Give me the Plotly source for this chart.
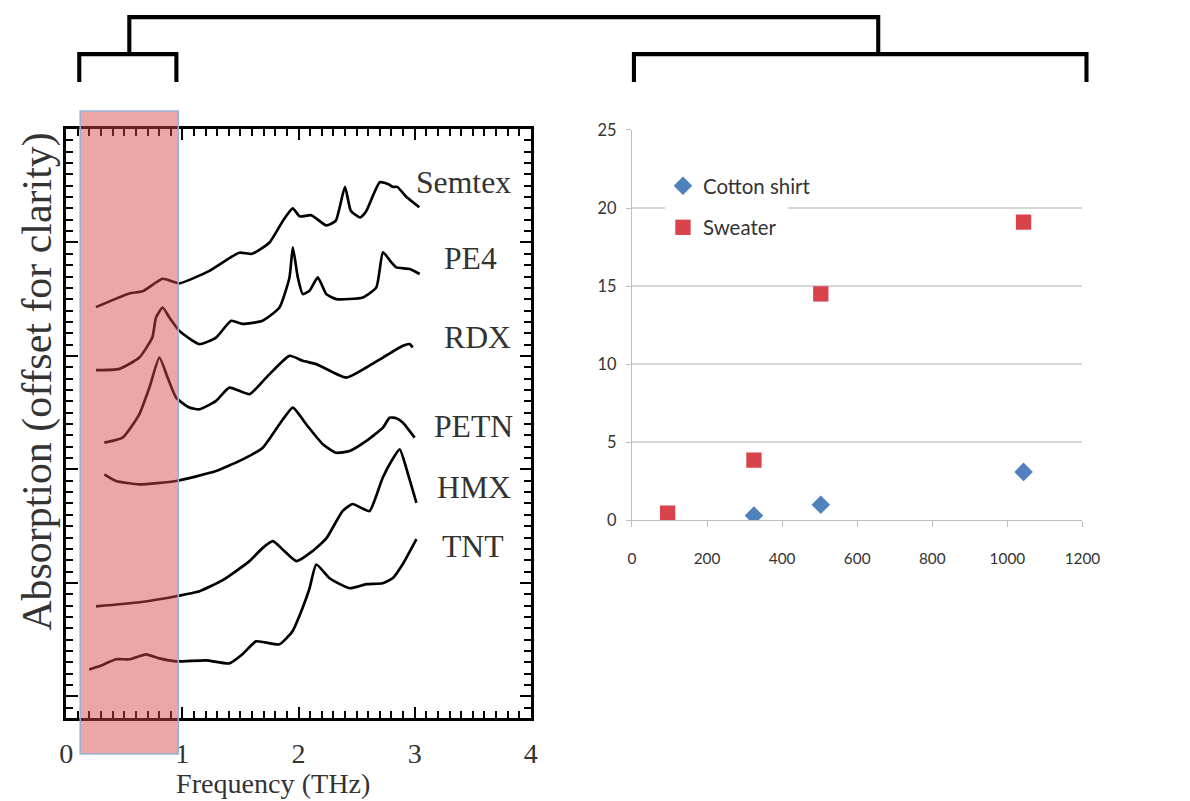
import plotly.graph_objects as go

# Layout positions are written on a 1190x801 design grid; the figure itself is
# slightly larger and sits inside the page body's 8px margin.
GRID_SCALE = 0.978
M = 8
W, H = 1201, 803

# ---- THz absorption spectra (vertically offset) ----
semtex_f = [0.256, 0.543, 0.658, 0.83, 0.974, 1.233, 1.49, 1.6, 1.75, 1.865, 1.95, 2.01, 2.11,
            2.24, 2.32, 2.40, 2.45, 2.53, 2.58, 2.70, 2.78, 2.81, 2.85, 2.93, 3.04]
semtex_a = [3.43, 3.55, 3.57, 3.68, 3.64, 3.75, 3.91, 3.90, 4.0, 4.19, 4.30, 4.23, 4.24,
            4.15, 4.19, 4.49, 4.28, 4.22, 4.27, 4.53, 4.51, 4.49, 4.49, 4.40, 4.31]

pe4_f = [0.256, 0.457, 0.629, 0.741, 0.773, 0.830, 0.888, 0.974, 1.147, 1.29, 1.42, 1.517, 1.69,
         1.836, 1.922, 1.951, 1.994, 2.037, 2.095, 2.166, 2.239, 2.325, 2.554, 2.67, 2.727, 2.80,
         2.842, 2.957, 3.043]
pe4_a = [2.875, 2.886, 2.986, 3.162, 3.339, 3.427, 3.339, 3.221, 3.104, 3.162, 3.31, 3.283, 3.31,
         3.427, 3.692, 3.957, 3.692, 3.545, 3.575, 3.692, 3.545, 3.501, 3.515, 3.604, 3.913, 3.824,
         3.78, 3.766, 3.722]

rdx_f = [0.328, 0.485, 0.629, 0.716, 0.802, 0.873, 0.946, 1.06, 1.147, 1.29, 1.405, 1.578, 1.722,
         1.922, 2.037, 2.153, 2.411, 2.584, 2.727, 2.899, 2.957, 2.983]
rdx_a = [2.236, 2.280, 2.486, 2.721, 2.986, 2.809, 2.633, 2.545, 2.530, 2.604, 2.721, 2.663, 2.809,
         3.001, 2.957, 2.928, 2.809, 2.898, 2.986, 3.089, 3.104, 3.074]

petn_f = [0.328, 0.428, 0.629, 0.946, 1.29, 1.52, 1.692, 1.836, 1.951, 2.066, 2.209, 2.325, 2.44,
          2.584, 2.727, 2.784, 2.842, 2.899, 3.0]
petn_a = [1.957, 1.898, 1.869, 1.898, 1.986, 2.089, 2.192, 2.398, 2.545, 2.398, 2.222, 2.147, 2.162,
          2.251, 2.368, 2.456, 2.451, 2.412, 2.280]

hmx_f = [0.256, 0.629, 0.946, 1.147, 1.347, 1.578, 1.692, 1.779, 1.879, 1.983, 2.12, 2.241, 2.379,
         2.466, 2.543, 2.612, 2.724, 2.80, 2.871, 2.94, 3.015]
hmx_a = [0.794, 0.830, 0.883, 0.927, 1.024, 1.192, 1.309, 1.368, 1.280, 1.192, 1.280, 1.395, 1.633,
         1.695, 1.659, 1.633, 1.924, 2.074, 2.177, 1.968, 1.706]

tnt_f = [0.198, 0.284, 0.428, 0.543, 0.687, 0.802, 0.946, 1.204, 1.405, 1.517, 1.635, 1.836, 1.948,
         2.034, 2.095, 2.153, 2.267, 2.44, 2.584, 2.724, 2.81, 2.897, 3.015]
tnt_a = [0.238, 0.265, 0.327, 0.327, 0.371, 0.335, 0.309, 0.318, 0.291, 0.371, 0.485, 0.459, 0.574,
         0.777, 0.953, 1.162, 1.041, 0.953, 0.989, 0.997, 1.041, 1.165, 1.386]

spectra = [
    ("Semtex", semtex_f, semtex_a),
    ("PE4", pe4_f, pe4_a),
    ("RDX", rdx_f, rdx_a),
    ("PETN", petn_f, petn_a),
    ("HMX", hmx_f, hmx_a),
    ("TNT", tnt_f, tnt_a),
]

# label anchor (frequency, absorption) for each spectrum name
label_f = [3.42, 3.48, 3.54, 3.51, 3.51, 3.50]
label_a = [4.53, 3.86, 3.16, 2.38, 1.84, 1.32]

# highlighted low-frequency band (THz)
band = [0.12, 0.965]

# ---- attenuation vs. distance ----
cotton_x = [325, 503, 1043]
cotton_y = [0.3, 1.0, 3.1]
sweater_x = [95, 325, 503, 1043]
sweater_y = [0.45, 3.85, 14.5, 19.1]

SERIF = "Liberation Serif, Times New Roman, serif"
SANS = "Lato, Open Sans, sans-serif"
TXT = "#333333"


def px(x):
    """design-grid column -> paper fraction"""
    return (x / GRID_SCALE - M) / W


def py(y):
    """design-grid row -> paper fraction"""
    return 1 - (y / GRID_SCALE - M) / H


def fs(v):
    """design-grid size -> figure pixels"""
    return v / GRID_SCALE


fig = go.Figure()

for name, f, a in spectra:
    fig.add_trace(go.Scatter(
        x=f, y=a, mode="lines", name=name, showlegend=False,
        line=dict(color="black", width=fs(2.6), shape="spline", smoothing=0.5),
        xaxis="x", yaxis="y", hoverinfo="skip"))

fig.add_trace(go.Scatter(
    x=cotton_x, y=cotton_y, mode="markers", name="Cotton shirt",
    marker=dict(symbol="diamond", size=fs(14), color="#4F81BD"),
    xaxis="x2", yaxis="y2", legendgroup="a"))
fig.add_trace(go.Scatter(
    x=sweater_x, y=sweater_y, mode="markers", name="Sweater",
    marker=dict(symbol="square", size=fs(15), color="#D9434B"),
    xaxis="x2", yaxis="y2", legendgroup="b"))

annotations = []
for (name, _, _), lf, la in zip(spectra, label_f, label_a):
    annotations.append(dict(
        x=lf, y=la, xref="x", yref="y", text=name, showarrow=False,
        xanchor="center", yanchor="middle",
        font=dict(family=SERIF, size=fs(31), color=TXT)))

annotations.append(dict(
    x=px(274), y=py(783), xref="paper", yref="paper", text="Frequency (THz)",
    showarrow=False, xanchor="center", yanchor="middle",
    font=dict(family=SERIF, size=fs(27.5), color=TXT)))
annotations.append(dict(
    x=px(38), y=py(380), xref="paper", yref="paper",
    text="Absorption (offset for clarity)", textangle=-90,
    showarrow=False, xanchor="center", yanchor="middle",
    font=dict(family=SERIF, size=fs(41), color=TXT)))

# dendrogram-style brackets joining the two panels
bracket_path = (
    f"M{px(80)},{py(80)} L{px(80)},{py(52)} L{px(177)},{py(52)} L{px(177)},{py(80)} "
    f"M{px(130)},{py(52)} L{px(130)},{py(15)} L{px(878)},{py(15)} L{px(878)},{py(52)} "
    f"M{px(634)},{py(80)} L{px(634)},{py(52)} L{px(1086)},{py(52)} L{px(1086)},{py(80)}"
)

shapes = [
    dict(type="path", path=bracket_path, xref="paper", yref="paper",
         line=dict(color="black", width=fs(4))),
    dict(type="rect", xref="x", yref="paper", x0=band[0], x1=band[1],
         y0=py(753), y1=py(109), layer="above",
         fillcolor="rgba(214,72,72,0.48)", line=dict(color="#95B3D7", width=1.5)),
    # legend background interrupting the gridline
    dict(type="rect", xref="x2", yref="y2", x0=88, x1=416, y0=19.3, y1=20.7,
         layer="between", fillcolor="white", line=dict(width=0)),
]

left_dom_x = [px(67), px(531)]
left_dom_y = [py(717), py(127)]
fine = dict(ticks="inside", ticklen=fs(7), tickwidth=2.2, dtick=0.1, tickcolor="black")
frame = dict(showline=True, linewidth=fs(3), linecolor="black", mirror="allticks",
             ticks="inside", ticklen=fs(11), tickwidth=2.2, tickcolor="black",
             dtick=1, tick0=0, minor=fine, showgrid=False, zeroline=False)

fig.update_layout(
    width=W, height=H, margin=dict(l=0, r=0, t=0, b=0),
    paper_bgcolor="white", plot_bgcolor="rgba(0,0,0,0)",
    showlegend=True,
    legend=dict(x=px(663), y=py(164), xanchor="left", yanchor="top",
                bgcolor="rgba(0,0,0,0)", tracegroupgap=12,
                font=dict(family=SANS, size=fs(20), color=TXT)),
    xaxis=dict(domain=left_dom_x, range=[0, 4], anchor="y", ticklabelstandoff=8,
               tickfont=dict(family=SERIF, size=fs(27.5), color=TXT), **frame),
    yaxis=dict(domain=left_dom_y, range=[-0.19, 5.0], anchor="x",
               showticklabels=False, **frame),
    xaxis2=dict(domain=[px(632), px(1082)], range=[0, 1200], anchor="y2",
                showline=True, linewidth=1.2, linecolor="#BFBFBF",
                ticks="outside", ticklen=6, tickwidth=1, tickcolor="#BFBFBF", dtick=200,
                showgrid=False, zeroline=False, ticklabelstandoff=18,
                tickfont=dict(family=SANS, size=fs(15), color=TXT)),
    yaxis2=dict(domain=[py(519), py(128)], range=[0, 25], anchor="x2",
                showline=True, linewidth=1.2, linecolor="#BFBFBF",
                ticks="outside", ticklen=5, tickwidth=1, tickcolor="#BFBFBF", dtick=5,
                showgrid=True, gridcolor="#D6D6D6", gridwidth=1.5, zeroline=False,
                ticklabelstandoff=6,
                tickfont=dict(family=SANS, size=fs(16), color=TXT)),
    annotations=annotations,
    shapes=shapes,
)

fig.write_html("out.html")
